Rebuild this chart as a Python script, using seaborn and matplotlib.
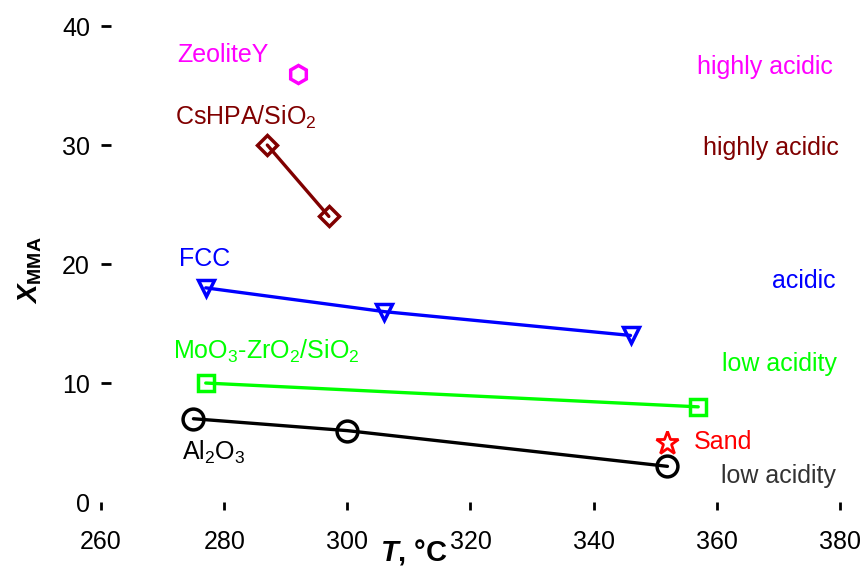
import matplotlib
matplotlib.use("Agg")
import matplotlib.pyplot as plt
import seaborn as sns
import pandas as pd

# data (T in °C, X_MMA)
zeolite_t = [292]
zeolite_x = [36]
cshpa_t = [287, 297]
cshpa_x = [30, 24]
fcc_t = [277, 306, 346]
fcc_x = [18, 16, 14]
moo3_t = [277, 357]
moo3_x = [10, 8]
al2o3_t = [275, 300, 352]
al2o3_x = [7, 6, 3]
sand_t = [352]
sand_x = [5]

x_ticks = [260, 280, 300, 320, 340, 360, 380]
y_ticks = [0, 10, 20, 30, 40]

sns.set_style("white")
plt.rcParams['font.family'] = ['Liberation Sans', 'DejaVu Sans']
plt.rcParams['mathtext.fontset'] = 'custom'
plt.rcParams['mathtext.rm'] = 'Liberation Sans'
plt.rcParams['mathtext.it'] = 'Liberation Sans:italic:bold'
plt.rcParams['mathtext.bf'] = 'Liberation Sans:bold'
plt.rcParams['text.color'] = 'black'
plt.rcParams['axes.labelcolor'] = 'black'
plt.rcParams['xtick.color'] = 'black'
plt.rcParams['ytick.color'] = 'black'

fig = plt.figure(figsize=(8.64, 5.66), dpi=100)
ax = fig.add_axes([0.117, 0.113, 0.855, 0.841])

# series: (t, x, color, marker, markersize, edge width)
series = [
    (zeolite_t, zeolite_x, '#FF00FF', 'h', 13, 2.5),
    (cshpa_t, cshpa_x, '#800000', 'D', 10.5, 2.5),
    (fcc_t, fcc_x, '#0000FF', 'v', 11.5, 2.5),
    (moo3_t, moo3_x, '#00FF00', 's', 11, 2.5),
    (al2o3_t, al2o3_x, '#000000', 'o', 15, 2.5),
    (sand_t, sand_x, '#FF0000', '*', 17, 2.0),
]
for t, x, col, mk, ms, mew in series:
    df = pd.DataFrame({'T': t, 'X': x})
    sns.lineplot(data=df, x='T', y='X', ax=ax, color=col, linewidth=2.4,
                 marker=mk, markersize=ms, markerfacecolor='none',
                 markeredgecolor=col, markeredgewidth=mew, sort=False)

fs = 18
ax.text(272.3, 36.97, 'ZeoliteY', color='#FF00FF', fontsize=fs)
ax.text(272.0, 31.68, r'CsHPA/SiO$_\mathrm{2}$', color='#800000', fontsize=fs)
ax.text(272.7, 19.83, 'FCC', color='#0000FF', fontsize=fs)
ax.text(271.7, 12.02, r'MoO$_\mathrm{3}$-ZrO$_\mathrm{2}$/SiO$_\mathrm{2}$', color='#00FF00', fontsize=fs)
ax.text(273.2, 3.53, r'Al$_\mathrm{2}$O$_\mathrm{3}$', color='#000000', fontsize=fs)
ax.text(356.3, 4.45, 'Sand', color='#FF0000', fontsize=fs)

ax.text(378.9, 36.0, 'highly acidic', color='#FF00FF', fontsize=fs, ha='right')
ax.text(379.8, 29.16, 'highly acidic', color='#800000', fontsize=fs, ha='right')
ax.text(379.4, 17.98, 'acidic', color='#0000FF', fontsize=fs, ha='right')
ax.text(379.5, 11.0, 'low acidity', color='#00FF00', fontsize=fs, ha='right')
ax.text(379.4, 1.6, 'low acidity', color='#333333', fontsize=fs, ha='right')

ax.set_xlim(260, 380)
ax.set_ylim(0, 40)
ax.set_xticks(x_ticks)
ax.set_yticks(y_ticks)
ax.tick_params(axis='x', bottom=True, direction='out', length=6, width=2, pad=14,
               labelsize=fs, color='black', labelcolor='black')
ax.tick_params(axis='y', left=True, direction='in', length=7, width=2, pad=8,
               labelsize=fs, color='black', labelcolor='black')
sns.despine(ax=ax, left=True, bottom=True, top=True, right=True)

ax.set_xlabel(r'$\mathit{T}$, °C', fontsize=21, fontweight='bold', color='black')
ax.xaxis.set_label_coords(0.4235, -0.0735)
ax.set_ylabel(r'$\mathit{X}_{\mathbf{MMA}}$', fontsize=20, color='black')
ax.yaxis.set_label_coords(-0.077, 0.487)

fig.canvas.draw()
ax.yaxis.get_major_ticks()[0].tick1line.set_visible(False)

plt.savefig('out.png', dpi=100)
